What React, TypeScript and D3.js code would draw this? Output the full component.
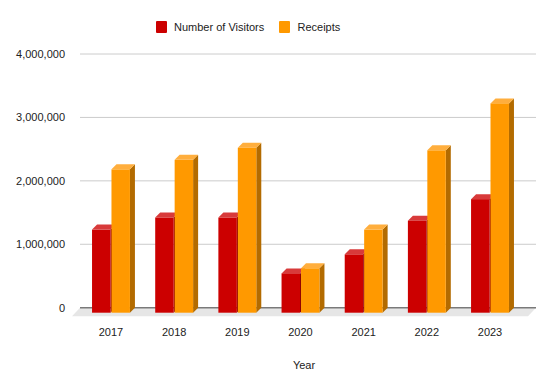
import React from 'react';
import * as d3 from 'd3';

// chart values
const years = ['2017', '2018', '2019', '2020', '2021', '2022', '2023'];
const visitors = [1310000, 1500000, 1500000, 620000, 920000, 1450000, 1790000];
const receipts = [2260000, 2410000, 2600000, 700000, 1310000, 2560000, 3300000];
const yTicks = [0, 1000000, 2000000, 3000000, 4000000];
const seriesNames = ['Number of Visitors', 'Receipts'];

const W = 553;
const H = 392;
const depth = 5;
const font = '"Liberation Sans", Arial, sans-serif';

const colors = [
  { front: '#cc0000', top: '#d83a3a', side: '#8f0000' },
  { front: '#ff9900', top: '#ffae3d', side: '#b36b00' },
];

const App = () => {
  // back plane (grid) and front plane (bars) are offset by the 3D depth
  const gridLeft = 80;
  const gridRight = 536;

  const y = d3.scaleLinear().domain([0, 4000000]).range([307.7, 54]);

  const x = d3
    .scaleBand()
    .domain(years)
    .range([79.4, 521.6])
    .paddingInner(0.4)
    .paddingOuter(0.2);

  const xs = d3
    .scaleBand()
    .domain(['0', '1'])
    .range([0, x.bandwidth()])
    .paddingInner(0.05);

  const fmt = d3.format(',');
  const base = y(0);

  function bar(v, i, s) {
    const x0 = x(years[i]) + xs(String(s));
    const w = xs.bandwidth();
    const yt = y(v) + depth;
    const yb = base + depth;
    const c = colors[s];
    const cap = [
      [x0, yt],
      [x0 + depth, yt - depth],
      [x0 + w + depth, yt - depth],
      [x0 + w, yt],
    ];
    const side = [
      [x0 + w, yt],
      [x0 + w + depth, yt - depth],
      [x0 + w + depth, yb - depth],
      [x0 + w, yb],
    ];
    return (
      <g key={'b' + s + '-' + i}>
        <polygon points={side.join(' ')} fill={c.side} />
        <polygon points={cap.join(' ')} fill={c.top} />
        <rect x={x0} y={yt} width={w} height={yb - yt} fill={c.front} />
      </g>
    );
  }

  const floor = [
    [gridLeft, base],
    [gridRight, base],
    [gridRight - 8, base + 8.5],
    [gridLeft - 8, base + 8.5],
  ];

  return (
    <svg
      width={W}
      height={H}
      style={{ position: 'absolute', left: 0, top: 0, background: '#fff' }}
      fontFamily={font}
    >
      {/* legend */}
      <rect x={156} y={21} width={11} height={12} rx={1} fill={colors[0].front} />
      <text x={174} y={31} fontSize={11} fill="#222">
        {seriesNames[0]}
      </text>
      <rect x={279} y={21} width={11} height={12} rx={1} fill={colors[1].front} />
      <text x={297.5} y={31} fontSize={11} fill="#222">
        {seriesNames[1]}
      </text>

      {/* gridlines and y labels */}
      {yTicks.map((t) => (
        <g key={'t' + t}>
          {t > 0 && (
            <line x1={gridLeft} x2={gridRight} y1={y(t)} y2={y(t)} stroke="#cccccc" strokeWidth={1} />
          )}
          <text x={65} y={y(t) + 4} fontSize={11} fill="#222" textAnchor="end">
            {fmt(t)}
          </text>
        </g>
      ))}

      {/* floor and baseline */}
      <polygon points={floor.join(' ')} fill="#e6e6e6" />
      <line x1={gridLeft} x2={gridRight} y1={base} y2={base} stroke="#7a7a7a" strokeWidth={1.5} />

      {/* bars */}
      {visitors.map((v, i) => bar(v, i, 0))}
      {receipts.map((v, i) => bar(v, i, 1))}

      {/* x labels */}
      {years.map((yr) => (
        <text
          key={'x' + yr}
          x={x(yr) + x.bandwidth() / 2}
          y={336}
          fontSize={11}
          fill="#222"
          textAnchor="middle"
        >
          {yr}
        </text>
      ))}
      <text x={304} y={369} fontSize={11} fill="#222" textAnchor="middle">
        Year
      </text>
    </svg>
  );
};

export default App;
